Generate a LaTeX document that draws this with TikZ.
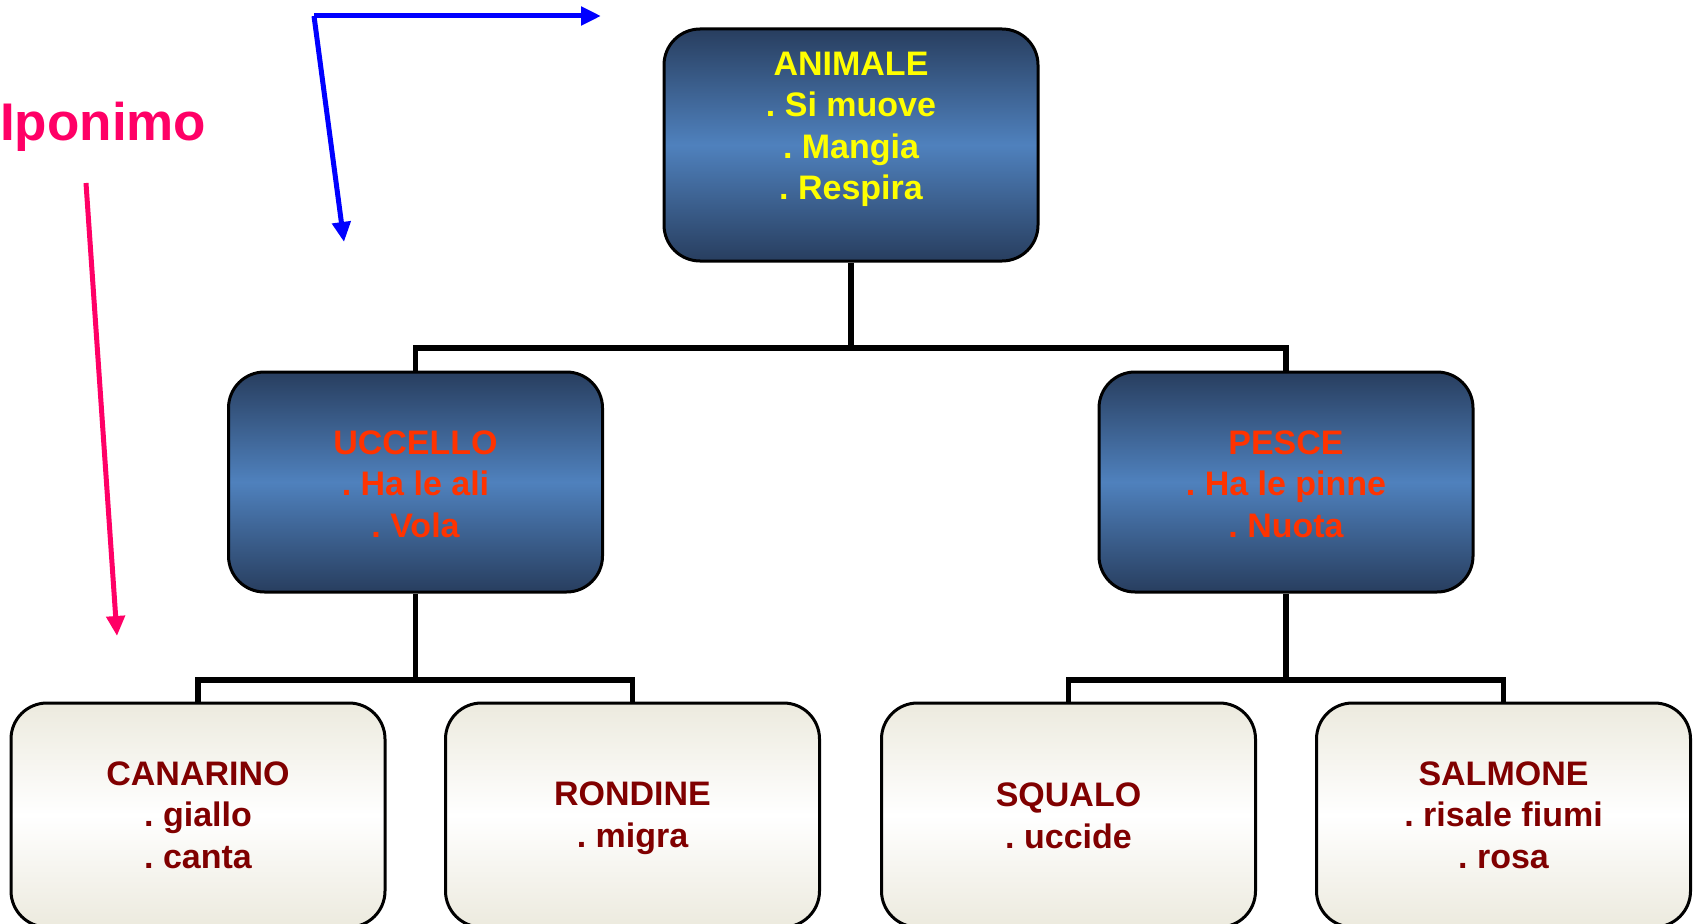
\documentclass[tikz,border=0pt]{standalone}
\usepackage{fontspec}
\setmainfont{Liberation Sans}
\usetikzlibrary{arrows.meta}
\definecolor{dkblue}{RGB}{40,62,95}
\definecolor{mdblue}{RGB}{79,129,189}
\definecolor{beige}{RGB}{236,234,222}
\definecolor{ylw}{RGB}{255,255,0}
\definecolor{redor}{RGB}{255,51,0}
\definecolor{maroonc}{RGB}{128,0,0}
\definecolor{pinkred}{RGB}{255,0,102}
\definecolor{arrblue}{RGB}{0,0,255}
\frenchspacing
\begin{document}
\begin{tikzpicture}[x=1pt,y=-1pt,
  box/.style={draw=black, line width=3pt, rounded corners=36pt, minimum width=374pt, inner sep=0pt},
  darkbox/.style={box, minimum height=226pt, top color=dkblue, bottom color=dkblue, middle color=mdblue},
  midbox/.style={box, minimum height=220pt, top color=dkblue, bottom color=dkblue, middle color=mdblue},
  lightbox/.style={box, minimum height=224pt, top color=beige, bottom color=beige, middle color=white},
  txt/.style={font=\bfseries\fontsize{34}{41.5}\selectfont\frenchspacing, align=center, inner sep=0pt},
  conn/.style={draw=black, line width=5.5pt},
  arr/.style={line width=5pt, -{Triangle[length=20pt,width=18pt]}}
]
\clip (0,0) rectangle (1693,923);
\fill[white] (0,0) rectangle (1693,923);

% boxes
\node[darkbox, minimum height=232pt] (animale) at (851,145) {};
\node[midbox] (uccello) at (415.5,482) {};
\node[midbox] (pesce) at (1286,482) {};
\node[lightbox] (canarino) at (198,815) {};
\node[lightbox] (rondine) at (632.5,815) {};
\node[lightbox] (squalo) at (1068.5,815) {};
\node[lightbox] (salmone) at (1503.5,815) {};

% connectors
\coordinate (busA) at (851,348);
\coordinate (busU) at (415.5,680);
\coordinate (busP) at (1286,680);
\draw[conn] (animale.south) -- (busA);
\draw[conn] (uccello.north) |- (busA) -| (pesce.north);
\draw[conn] (uccello.south) -- (busU);
\draw[conn] (canarino.north) |- (busU) -| (rondine.north);
\draw[conn] (pesce.south) -- (busP);
\draw[conn] (squalo.north) |- (busP) -| (salmone.north);

% texts
\node[txt, text=ylw] (animaleT) at (851,129.5) {ANIMALE\\. Si muove\\. Mangia\\. Respira};
\node[txt, text=redor] (uccelloT) at (415.5,484) {UCCELLO\\. Ha le ali\\. Vola};
\node[txt, text=redor] (pesceT) at (1286,484) {PESCE\\. Ha le pinne\\. Nuota};
\node[txt, text=maroonc] (canarinoT) at (198,815) {CANARINO\\. giallo\\. canta};
\node[txt, text=maroonc] (rondineT) at (632.5,818) {RONDINE\\. migra};
\node[txt, text=maroonc] (squaloT) at (1068.5,816) {SQUALO\\. uccide};
\node[txt, text=maroonc] (salmoneT) at (1503.5,815) {SALMONE\\. risale fiumi\\. rosa};

% Iponimo label and arrows
\node[anchor=base west, inner sep=0pt, text=pinkred, font=\bfseries\fontsize{53}{60}\selectfont] (iponimo) at (0,140) {Iponimo};
\coordinate (pstart) at (86,183);
\coordinate (ptip) at (117,636);
\draw[arr, draw=pinkred, fill=pinkred] (pstart) -- (ptip);
\coordinate (bstart) at (314,16);
\coordinate (btipR) at (601,16);
\coordinate (btipD) at (344,242);
\draw[arr, draw=arrblue, fill=arrblue] (bstart) -- (btipR);
\draw[arr, draw=arrblue, fill=arrblue] (bstart) -- (btipD);
\end{tikzpicture}
\end{document}
